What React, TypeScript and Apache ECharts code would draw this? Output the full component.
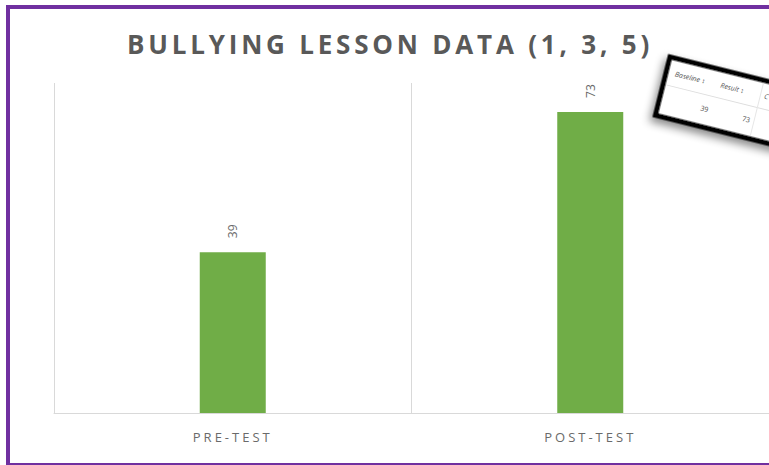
import React, { useEffect, useRef } from "react";
import * as echarts from "echarts";

const titleText = "BULLYING LESSON DATA (1, 3, 5)";
const categories = ["PRE-TEST", "POST-TEST"];
const values = [39, 73];
const tableHeaders = ["Baseline ↕", "Result ↕", "C"];
const tableValues = ["39", "73"];

export default function App() {
  const ref = useRef<HTMLDivElement>(null);
  useEffect(() => {
    document.body.style.margin = "0";
    const chart = echarts.init(ref.current!, null, { renderer: "svg" });
    const rot = (-14 * Math.PI) / 180;
    chart.setOption({
      animation: false,
      backgroundColor: "#ffffff",
      grid: { left: 54, top: 83, right: -3, height: 330 },
      xAxis: {
        type: "category",
        data: categories,
        boundaryGap: true,
        axisLine: { show: true, lineStyle: { color: "#d9d9d9", width: 1 } },
        axisTick: { show: false },
        splitLine: { show: true, interval: 0, lineStyle: { color: "#d9d9d9", width: 1 } },
        axisLabel: {
          interval: 0,
          margin: 17,
          color: "#6a6a6a",
          fontFamily: "Open Sans",
          fontSize: 13,
        },
      },
      yAxis: {
        type: "value",
        min: 0,
        max: 80,
        show: false,
        splitLine: { show: false },
      },
      series: [
        {
          type: "bar",
          data: values,
          barWidth: 66,
          itemStyle: { color: "#70AD47" },
          label: {
            show: true,
            position: "top",
            rotate: 90,
            align: "left",
            verticalAlign: "middle",
            distance: 14,
            color: "#6a6a6a",
            fontFamily: "Open Sans",
            fontSize: 12,
          },
        },
      ],
      graphic: [
        {
          type: "text",
          x: 390,
          y: 44,
          style: {
            text: titleText,
            textAlign: "center",
            textVerticalAlign: "middle",
            fill: "#595959",
            font: "bold 26px 'Open Sans'",
          },
        },
        {
          type: "group",
          x: 670,
          y: 57,
          rotation: rot,
          children: [
            {
              type: "rect",
              shape: { x: 0, y: 0, width: 220, height: 60 },
              style: {
                fill: "#ffffff",
                stroke: "#000000",
                lineWidth: 5,
                shadowBlur: 8,
                shadowOffsetX: -2,
                shadowOffsetY: 5,
                shadowColor: "rgba(0,0,0,0.45)",
              },
            },
            {
              type: "line",
              shape: { x1: 3, y1: 28, x2: 217, y2: 28 },
              style: { stroke: "#dddddd", lineWidth: 1 },
            },
            {
              type: "line",
              shape: { x1: 97, y1: 3, x2: 97, y2: 57 },
              style: { stroke: "#e6e6e6", lineWidth: 1 },
            },
            {
              type: "text",
              x: 9,
              y: 15,
              style: { text: tableHeaders[0], fill: "#555555", font: "italic 7px 'Open Sans'", textVerticalAlign: "middle" },
            },
            {
              type: "text",
              x: 56,
              y: 15,
              style: { text: tableHeaders[1], fill: "#555555", font: "italic 7px 'Open Sans'", textVerticalAlign: "middle" },
            },
            {
              type: "text",
              x: 101,
              y: 15,
              style: { text: tableHeaders[2], fill: "#555555", font: "italic 7px 'Open Sans'", textVerticalAlign: "middle" },
            },
            {
              type: "text",
              x: 50,
              y: 42,
              style: { text: tableValues[0], fill: "#555555", font: "7px 'Open Sans'", textAlign: "right", textVerticalAlign: "middle" },
            },
            {
              type: "text",
              x: 93,
              y: 42,
              style: { text: tableValues[1], fill: "#555555", font: "7px 'Open Sans'", textAlign: "right", textVerticalAlign: "middle" },
            },
          ],
        },
        {
          type: "rect",
          shape: { x: 8, y: 7, width: 800, height: 458 },
          style: { fill: "none", stroke: "#7030A0", lineWidth: 4 },
        },
      ],
    });
    const root = ref.current!;
    root.querySelectorAll("text").forEach((t) => {
      const s = t.textContent || "";
      if (s === titleText) {
        (t as SVGTextElement).style.letterSpacing = "3.8px";
      } else if (categories.includes(s)) {
        (t as SVGTextElement).style.letterSpacing = "3px";
      }
    });
    return () => chart.dispose();
  }, []);
  return <div ref={ref} style={{ position: "absolute", left: 0, top: 0, width: 769, height: 465 }} />;
}
